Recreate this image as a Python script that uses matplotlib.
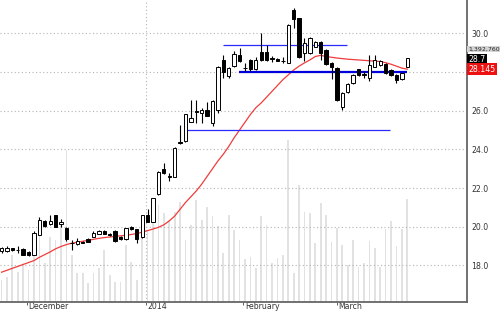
import matplotlib
matplotlib.use("Agg")
import matplotlib.pyplot as plt
import matplotlib.transforms as mtrans
import numpy as np

# ---------------- data ----------------
opens = [18.75, 18.75, 18.88, 18.80, 18.85, 18.70, 18.55, 19.58, 20.30, 20.14,
         20.59, 20.14, 19.95, 19.18, 19.11, 19.20, 19.37, 19.49, 19.63, 19.80,
         19.60, 19.80, 19.46, 19.37, 19.97, 19.87, 19.46, 20.59, 20.26, 21.68,
         22.97, 22.60, 22.59, 24.38, 24.43, 25.43, 26.00, 25.90, 26.04, 25.38,
         26.04, 28.62, 27.79, 28.33, 28.88, 28.20, 28.62, 28.16, 29.03, 29.03,
         28.70, 28.66, 28.58, 28.48, 31.20, 30.78, 29.00, 29.00, 29.31, 29.53,
         29.14, 28.48, 28.20, 26.21, 26.95, 27.42, 28.13, 27.87, 27.67, 28.27,
         28.34, 28.43, 28.10, 27.84, 27.62, 28.27]
highs = [18.95, 18.98, 18.92, 19.00, 18.88, 18.75, 19.78, 20.52, 20.35, 20.60,
         20.62, 20.38, 20.00, 19.32, 19.40, 19.25, 19.40, 19.78, 19.85, 19.85,
         19.66, 19.82, 19.50, 19.95, 20.02, 19.90, 20.62, 20.90, 21.50, 22.90,
         23.31, 22.77, 24.10, 25.26, 25.85, 26.55, 26.55, 26.12, 26.47, 26.55,
         28.30, 28.88, 28.25, 29.10, 29.24, 28.45, 28.66, 28.79, 30.00, 29.40,
         28.83, 28.70, 28.77, 30.48, 31.30, 30.80, 29.75, 29.80, 29.60, 29.58,
         29.18, 28.52, 28.24, 26.95, 27.42, 27.90, 28.16, 28.05, 28.88, 28.88,
         28.62, 28.47, 28.13, 27.87, 27.96, 28.73]
lows = [18.65, 18.70, 18.75, 18.65, 18.52, 18.50, 18.52, 19.55, 20.00, 20.10,
        19.98, 19.98, 19.26, 18.80, 19.08, 19.15, 19.20, 19.46, 19.60, 19.60,
        19.52, 19.20, 19.34, 19.34, 19.85, 19.18, 19.42, 20.22, 20.22, 21.65,
        22.72, 22.38, 22.55, 24.30, 24.40, 25.40, 25.35, 25.35, 25.70, 25.21,
        25.90, 27.67, 27.70, 28.27, 28.50, 28.04, 28.04, 28.10, 28.55, 28.57,
        28.52, 28.55, 28.45, 28.45, 30.27, 28.70, 28.55, 28.95, 29.28, 28.62,
        28.38, 27.66, 26.50, 26.04, 26.92, 27.38, 27.80, 27.68, 27.54, 28.24,
        28.30, 27.90, 27.78, 27.42, 27.59, 28.25]
closes = [18.90, 18.90, 18.78, 18.79, 18.55, 18.55, 19.68, 20.35, 20.05, 20.30,
          20.00, 20.26, 19.37, 19.16, 19.28, 19.18, 19.23, 19.68, 19.80, 19.63,
          19.58, 19.28, 19.37, 19.92, 19.87, 19.37, 20.59, 20.26, 21.47, 22.85,
          22.77, 22.58, 24.06, 24.32, 25.81, 25.61, 25.93, 26.04, 25.73, 26.52,
          28.27, 28.00, 28.19, 28.93, 28.57, 28.18, 28.16, 28.62, 28.62, 28.62,
          28.68, 28.59, 28.56, 30.43, 30.74, 28.79, 29.51, 29.74, 29.53, 28.98,
          28.41, 28.27, 26.55, 26.90, 27.38, 27.84, 27.84, 27.85, 28.36, 28.62,
          28.58, 27.93, 27.82, 27.59, 27.93, 28.70]
moving_avg = [17.65, 17.75, 17.85, 17.95, 18.05, 18.15, 18.25, 18.42, 18.56, 18.70,
              18.86, 18.98, 19.08, 19.15, 19.20, 19.25, 19.30, 19.35, 19.40, 19.44,
              19.47, 19.50, 19.53, 19.56, 19.60, 19.65, 19.72, 19.80, 19.88, 19.97,
              20.10, 20.30, 20.55, 20.90, 21.25, 21.55, 21.85, 22.20, 22.60, 23.00,
              23.40, 23.75, 24.15, 24.60, 25.00, 25.40, 25.80, 26.15, 26.40, 26.70,
              27.00, 27.30, 27.60, 27.85, 28.10, 28.30, 28.47, 28.62, 28.80, 28.86,
              28.80, 28.76, 28.72, 28.69, 28.66, 28.64, 28.62, 28.60, 28.58, 28.56,
              28.54, 28.48, 28.40, 28.30, 28.20, 28.145]
volume_m = [0.297, 0.342, 0.635, 0.410, 0.500, 0.433, 0.658, 1.109, 0.523, 0.883,
            0.838, 1.064, 2.055, 0.635, 0.388, 0.388, 0.253, 0.388, 0.456, 0.703,
            0.365, 0.274, 0.274, 0.771, 0.545, 0.297, 0.906, 0.973, 1.176, 1.311,
            1.199, 1.109, 1.221, 1.356, 0.838, 1.041, 1.379, 1.109, 1.288, 1.163,
            1.028, 0.658, 1.176, 0.973, 0.838, 0.577, 0.604, 0.456, 1.163, 1.041,
            0.531, 0.591, 0.635, 2.190, 0.388, 1.582, 1.221, 1.199, 0.802, 1.334,
            1.176, 0.815, 0.996, 0.771, 0.500, 0.838, 0.477, 0.531, 0.829, 0.726,
            0.477, 0.983, 1.095, 0.757, 0.983, 1.3928]

trend_levels = [29.38, 25.00, 28.02]
trend_start = [40.9, 33.9, 43.9]
trend_end = [63.9, 71.8, 75.0]

month_labels = ["December", "2014", "February", "March"]
month_pos = [4.66, 26.7, 44.7, 61.96]
price_ticks = [18.0, 20.0, 22.0, 24.0, 26.0, 28.0, 30.0]
hidden_tick = 28.0  # covered by the moving-average value box

volume_label = "1,392,760"
last_label = "28.7"
ma_label = "28.145"

# ---------------- figure ----------------
fig = plt.figure(figsize=(5.0, 3.12), dpi=100)
rect = [0.0, 10 / 312, 467 / 500, 302 / 312]

axv = fig.add_axes(rect)
ax = fig.add_axes(rect, sharex=axv)
ax.patch.set_visible(False)
axv.set_zorder(0)
ax.set_zorder(1)

n = len(closes)
x = np.arange(n)
xlim = (-0.28, 86.04)

# volume
axv.bar(x, volume_m, width=0.32, color="#e2e2e2", linewidth=0)
axv.set_ylim(0, 4.083)
axv.set_xlim(*xlim)
axv.axis("off")

# grid
for t in price_ticks:
    ax.axhline(t, color="#b5b5b5", lw=0.8, ls=(0, (1, 2.2)), zorder=0.5)
ax.axvline(month_pos[1], color="#b5b5b5", lw=0.8, ls=(0, (1, 2.2)), zorder=0.5)

# moving average
ax.plot(x, moving_avg, color="#f03c3c", lw=0.9, zorder=2)

# trend lines
widths = [0.9, 0.9, 1.6]
colors = ["#2b2bff", "#2b2bff", "#0000dd"]
for lvl, s, e, w, c in zip(trend_levels, trend_start, trend_end, widths, colors):
    ax.hlines(lvl, s, e, color=c, lw=w, zorder=3)

# candles
o = np.array(opens); c = np.array(closes)
ax.vlines(x, lows, highs, color="black", lw=0.8, zorder=4)
body_bottom = np.minimum(o, c)
body_h = np.maximum(np.abs(c - o), 0.005)
face = ["white" if cc >= oo else "black" for oo, cc in zip(o, c)]
ax.bar(x, body_h, bottom=body_bottom, width=0.62, color=face,
       edgecolor="black", linewidth=0.7, zorder=5)

ax.set_xlim(*xlim)
ax.set_ylim(16.11, 31.72)

for side in ["top", "left"]:
    ax.spines[side].set_visible(False)
ax.spines["right"].set_color("#666666")
ax.spines["bottom"].set_color("#666666")
ax.spines["right"].set_linewidth(1.3)
ax.spines["bottom"].set_linewidth(1.3)

ax.yaxis.tick_right()
ax.set_yticks(price_ticks)
ax.set_yticklabels(["" if t == hidden_tick else f"{t:.1f}" for t in price_ticks])
ax.tick_params(axis="y", length=0, pad=3, labelsize=5.6, labelcolor="#333333")

ax.set_xticks(month_pos)
ax.set_xticklabels(month_labels)
ax.tick_params(axis="x", length=2.5, width=0.6, color="#444444", direction="out",
               pad=-0.5, labelsize=5.6, labelcolor="#333333")
offs = mtrans.ScaledTranslation(1.5 / 100, 2.8 / 100, fig.dpi_scale_trans)
for lab in ax.get_xticklabels():
    lab.set_ha("left")
    lab.set_transform(lab.get_transform() + offs)

# right-side value boxes
def box(yval, txt, fc, tc, fs=5.6):
    ax.annotate(txt, xy=(1.0, yval), xycoords=("axes fraction", "data"),
                xytext=(1.0, 0), textcoords="offset points", va="center", ha="left",
                fontsize=fs, color=tc, annotation_clip=False, zorder=10,
                bbox=dict(boxstyle="square,pad=0.15", fc=fc, ec="none"))

box(29.19, volume_label, "#d4d4d4", "#222222", fs=4.5)
box(28.65, last_label, "black", "white")
box(28.145, ma_label, "#ee1111", "white")

fig.savefig("out.png", dpi=100)
